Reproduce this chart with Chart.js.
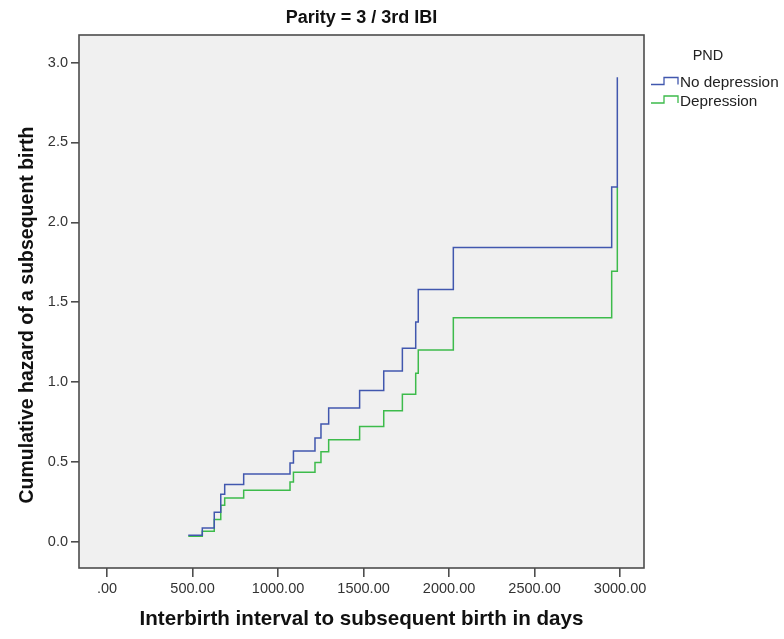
<!DOCTYPE html>
<html>
<head>
<meta charset="utf-8">
<script src="https://cdn.jsdelivr.net/npm/chart.js@4/dist/chart.umd.min.js"></script>
<style>
  html, body { margin: 0; padding: 0; background: #ffffff; }
  #wrap { width: 784px; height: 639px; position: relative; }
</style>
</head>
<body>
<div id="wrap"><canvas id="chart"></canvas></div>
<script>
// Event times (days) at which the cumulative hazard steps up
const eventDays = [475, 557, 627, 665, 688, 799, 1070, 1090, 1216, 1251, 1296, 1477, 1618, 1727, 1805, 1820, 2025, 2951, 2984];

// Cumulative hazard after each event, by PND group
const hazardNoDepression = [0.041, 0.087, 0.185, 0.297, 0.358, 0.425, 0.493, 0.568, 0.650, 0.737, 0.837, 0.947, 1.070, 1.212, 1.376, 1.580, 1.843, 2.221, 2.908];
const hazardDepression   = [0.035, 0.066, 0.139, 0.229, 0.275, 0.322, 0.375, 0.435, 0.497, 0.564, 0.639, 0.722, 0.820, 0.924, 1.055, 1.201, 1.403, 1.694, 2.221];

const groupNames = ['No depression', 'Depression'];
const groupColors = ['#4157ae', '#3dbb4b'];

// Axis ticks
const xTickValues = [0, 500, 1000, 1500, 2000, 2500, 3000];
const xTickLabels = ['.00', '500.00', '1000.00', '1500.00', '2000.00', '2500.00', '3000.00'];
const yTickValues = [0, 0.5, 1.0, 1.5, 2.0, 2.5, 3.0];
const yTickLabels = ['0.0', '0.5', '1.0', '1.5', '2.0', '2.5', '3.0'];

const yAxisTitle = 'Cumulative hazard of a subsequent birth';

const FONT = "'Liberation Sans', Arial, Helvetica, sans-serif";
const AXIS_INK = '#4d4d4d';

function toPoints(days, values) {
  return days.map((d, i) => ({ x: d, y: values[i] }));
}

// Grey plot panel with a dark frame
const panelPlugin = {
  id: 'panel',
  beforeDatasetsDraw(chart) {
    const { ctx, chartArea: a } = chart;
    ctx.save();
    ctx.fillStyle = '#f0f0f0';
    ctx.fillRect(a.left, a.top, a.right - a.left, a.bottom - a.top);
    ctx.restore();
  },
  afterDatasetsDraw(chart) {
    const { ctx, chartArea: a } = chart;
    ctx.save();
    ctx.strokeStyle = AXIS_INK;
    ctx.lineWidth = 1.6;
    ctx.strokeRect(a.left, a.top, a.right - a.left, a.bottom - a.top);
    ctx.restore();
  }
};

// Vertical axis title, set a little below the panel's middle
const yTitlePlugin = {
  id: 'yTitle',
  afterDraw(chart) {
    const { ctx } = chart;
    ctx.save();
    ctx.translate(28, 315);
    ctx.rotate(-Math.PI / 2);
    ctx.font = 'bold 19.5px ' + FONT;
    ctx.fillStyle = '#111';
    ctx.textAlign = 'center';
    ctx.textBaseline = 'middle';
    ctx.fillText(yAxisTitle, 0, 0);
    ctx.restore();
  }
};

// Legend to the right of the panel with step-shaped keys
const stepLegendPlugin = {
  id: 'stepLegend',
  afterDraw(chart) {
    const { ctx, chartArea: a } = chart;
    ctx.save();
    ctx.font = '14.5px ' + FONT;
    ctx.fillStyle = '#222';
    ctx.textBaseline = 'middle';
    ctx.textAlign = 'center';
    ctx.fillText('PND', 708, 56);
    ctx.textAlign = 'left';
    chart.data.datasets.forEach((ds, i) => {
      const y = 83 + i * 18.5;
      const x0 = a.right + 7;
      ctx.strokeStyle = ds.borderColor;
      ctx.lineWidth = 1.3;
      ctx.beginPath();
      ctx.moveTo(x0, y + 1.5);
      ctx.lineTo(x0 + 13, y + 1.5);
      ctx.lineTo(x0 + 13, y - 5.5);
      ctx.lineTo(x0 + 27, y - 5.5);
      ctx.lineTo(x0 + 27, y + 1.5);
      ctx.stroke();
      ctx.fillStyle = '#222';
      ctx.font = '15.3px ' + FONT;
      ctx.fillText(ds.label, x0 + 29, y);
    });
    ctx.restore();
  }
};

new Chart(document.getElementById('chart'), {
  type: 'line',
  data: {
    datasets: [
      {
        label: groupNames[0],
        data: toPoints(eventDays, hazardNoDepression),
        borderColor: groupColors[0],
        borderWidth: 1.5,
        stepped: 'before',
        pointRadius: 0,
        fill: false
      },
      {
        label: groupNames[1],
        data: toPoints(eventDays, hazardDepression),
        borderColor: groupColors[1],
        borderWidth: 1.5,
        stepped: 'before',
        pointRadius: 0,
        fill: false
      }
    ]
  },
  options: {
    responsive: true,
    maintainAspectRatio: false,
    animation: false,
    layout: { padding: { left: 0, right: 140, top: 0, bottom: 0 } },
    plugins: {
      legend: { display: false },
      tooltip: { enabled: false },
      title: {
        display: true,
        fullSize: false,
        text: 'Parity = 3 / 3rd IBI',
        color: '#111',
        font: { family: FONT, size: 18, weight: 'bold', lineHeight: 1.2 },
        padding: { top: 7, bottom: 6.4 }
      }
    },
    scales: {
      x: {
        type: 'linear',
        min: -164,
        max: 3140,
        afterBuildTicks(scale) {
          scale.ticks = xTickValues.map(v => ({ value: v }));
        },
        afterFit(scale) { scale.height = 71; },
        ticks: {
          autoSkip: false,
          maxRotation: 0,
          padding: 3,
          color: '#333',
          font: { family: FONT, size: 14.5 },
          callback: (v, i) => xTickLabels[i]
        },
        grid: {
          drawOnChartArea: false,
          drawTicks: true,
          tickLength: 9,
          color: AXIS_INK,
          lineWidth: 1.6
        },
        border: { display: false },
        title: {
          display: true,
          text: 'Interbirth interval to subsequent birth in days',
          color: '#111',
          font: { family: FONT, size: 20.6, weight: 'bold', lineHeight: 1.2 },
          padding: { top: 0, bottom: 7 }
        }
      },
      y: {
        type: 'linear',
        min: -0.164,
        max: 3.173,
        afterBuildTicks(scale) {
          scale.ticks = yTickValues.map(v => ({ value: v }));
        },
        afterFit(scale) { scale.width = 79; },
        ticks: {
          autoSkip: false,
          padding: 3,
          color: '#333',
          font: { family: FONT, size: 14.5 },
          callback: (v, i) => yTickLabels[i]
        },
        grid: {
          drawOnChartArea: false,
          drawTicks: true,
          tickLength: 8,
          color: AXIS_INK,
          lineWidth: 1.6
        },
        border: { display: false },
        title: { display: false }
      }
    }
  },
  plugins: [panelPlugin, yTitlePlugin, stepLegendPlugin]
});
</script>
</body>
</html>
